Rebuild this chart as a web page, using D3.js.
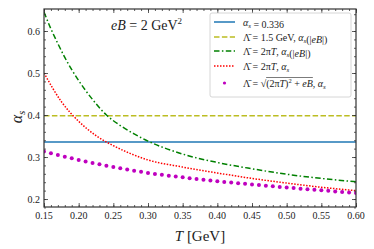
<!DOCTYPE html>
<html>
<head>
<meta charset="utf-8">
<script src="https://cdn.jsdelivr.net/npm/d3@7"></script>
<style>
  body { margin: 0; background: #fff; }
  svg text { font-family: "Liberation Serif", "DejaVu Serif", serif; fill: #222; }
</style>
</head>
<body>
<svg id="chart" width="374" height="249"></svg>
<script>
// constant couplings
var alphaFixed = 0.336;
var alphaLambda15 = 0.398;

// Lambda = 2 pi T, alpha_s(|eB|)
var greenT = [0.15, 0.16, 0.17, 0.18, 0.19, 0.20, 0.22, 0.24, 0.26, 0.28, 0.30, 0.35, 0.40, 0.45, 0.50, 0.55, 0.60];
var greenA = [0.645, 0.605, 0.570, 0.537, 0.508, 0.482, 0.437, 0.400, 0.375, 0.355, 0.338, 0.307, 0.287, 0.272, 0.259, 0.249, 0.241];

// Lambda = 2 pi T, alpha_s
var redT = [0.15, 0.175, 0.20, 0.225, 0.25, 0.275, 0.30, 0.35, 0.40, 0.45, 0.50, 0.55, 0.60];
var redA = [0.500, 0.432, 0.385, 0.351, 0.327, 0.308, 0.293, 0.276, 0.262, 0.249, 0.238, 0.228, 0.220];

// Lambda = sqrt((2 pi T)^2 + eB), alpha_s
var magT = [0.15, 0.16, 0.17, 0.18, 0.19, 0.20, 0.21, 0.22, 0.23, 0.24, 0.25, 0.26, 0.27, 0.28, 0.29,
            0.30, 0.31, 0.32, 0.33, 0.34, 0.35, 0.36, 0.37, 0.38, 0.39, 0.40, 0.41, 0.42, 0.43, 0.44,
            0.45, 0.46, 0.47, 0.48, 0.49, 0.50, 0.51, 0.52, 0.53, 0.54, 0.55, 0.56, 0.57, 0.58, 0.59, 0.60];
var magA = [0.3130, 0.3088, 0.3047, 0.3007, 0.2968, 0.2930, 0.2894, 0.2859, 0.2825, 0.2792, 0.2761, 0.2731, 0.2702, 0.2674, 0.2647,
            0.2620, 0.2598, 0.2577, 0.2556, 0.2536, 0.2516, 0.2497, 0.2478, 0.2460, 0.2442, 0.2425, 0.2408, 0.2392, 0.2376, 0.2361,
            0.2346, 0.2332, 0.2318, 0.2304, 0.2289, 0.2275, 0.2261, 0.2247, 0.2234, 0.2221, 0.2208, 0.2195, 0.2182, 0.2170, 0.2158, 0.2146];

var xTicks = [0.15, 0.20, 0.25, 0.30, 0.35, 0.40, 0.45, 0.50, 0.55, 0.60];
var yTicks = [0.2, 0.3, 0.4, 0.5, 0.6];

var svg = d3.select("#chart");
var mLeft = 44, mRight = 356, mTop = 9, mBottom = 207;

var x = d3.scaleLinear().domain([0.15, 0.60]).range([mLeft, mRight]);
var y = d3.scaleLinear().domain([0.181, 0.6524]).range([mBottom, mTop]);

svg.append("defs").append("clipPath").attr("id", "plotclip")
  .append("rect").attr("x", mLeft).attr("y", mTop).attr("width", mRight - mLeft).attr("height", mBottom - mTop);

var plot = svg.append("g").attr("clip-path", "url(#plotclip)");

var line = d3.line()
  .x(function(d) { return x(d[0]); })
  .y(function(d) { return y(d[1]); })
  .curve(d3.curveMonotoneX);

function zip(a, b) { return a.map(function(v, i) { return [v, b[i]]; }); }

plot.append("path")
  .datum([[0.15, alphaFixed], [0.60, alphaFixed]])
  .attr("d", line).attr("fill", "none")
  .attr("stroke", "#1f77b4").attr("stroke-width", 1.5);

plot.append("path")
  .datum([[0.15, alphaLambda15], [0.60, alphaLambda15]])
  .attr("d", line).attr("fill", "none")
  .attr("stroke", "#bcbd22").attr("stroke-width", 1.5)
  .attr("stroke-dasharray", "5.5,2.4");

plot.append("path")
  .datum(zip(greenT, greenA))
  .attr("d", line).attr("fill", "none")
  .attr("stroke", "green").attr("stroke-width", 1.5)
  .attr("stroke-dasharray", "5.5,2.4,1.5,2.4");

plot.append("path")
  .datum(zip(redT, redA))
  .attr("d", line).attr("fill", "none")
  .attr("stroke", "red").attr("stroke-width", 1.5)
  .attr("stroke-dasharray", "1.5,1.5");

plot.append("g")
  .selectAll("circle")
  .data(zip(magT, magA))
  .enter()
  .append("circle")
  .attr("cx", function(d) { return x(d[0]); })
  .attr("cy", function(d) { return y(d[1]); })
  .attr("r", 2)
  .attr("fill", "#bf00bf");

// frame + ticks (inward, all sides)
var axisColor = "#333";
function inward(axis, size) { return axis.tickSizeInner(size).tickSizeOuter(0); }

var xMinor = d3.range(0, 46).map(function(i) { return 0.15 + i * 0.01; });
var yMinor = d3.range(0, 24).map(function(i) { return 0.18 + i * 0.02; });

svg.append("g").attr("transform", "translate(0," + mBottom + ")")
  .call(inward(d3.axisTop(x).tickValues(xMinor).tickFormat(""), 2));
svg.append("g").attr("transform", "translate(0," + mBottom + ")")
  .call(inward(d3.axisTop(x).tickValues(xTicks).tickFormat(""), 4));
svg.append("g").attr("transform", "translate(0," + mTop + ")")
  .call(inward(d3.axisBottom(x).tickValues(xMinor).tickFormat(""), 2));
svg.append("g").attr("transform", "translate(0," + mTop + ")")
  .call(inward(d3.axisBottom(x).tickValues(xTicks).tickFormat(""), 4));
svg.append("g").attr("transform", "translate(" + mLeft + ",0)")
  .call(inward(d3.axisRight(y).tickValues(yMinor).tickFormat(""), 2));
svg.append("g").attr("transform", "translate(" + mLeft + ",0)")
  .call(inward(d3.axisRight(y).tickValues(yTicks).tickFormat(""), 4));
svg.append("g").attr("transform", "translate(" + mRight + ",0)")
  .call(inward(d3.axisLeft(y).tickValues(yMinor).tickFormat(""), 2));
svg.append("g").attr("transform", "translate(" + mRight + ",0)")
  .call(inward(d3.axisLeft(y).tickValues(yTicks).tickFormat(""), 4));

svg.selectAll(".domain").remove();
svg.selectAll(".tick line").attr("stroke", axisColor).attr("stroke-width", 0.8);

svg.append("rect")
  .attr("x", mLeft).attr("y", mTop).attr("width", mRight - mLeft).attr("height", mBottom - mTop)
  .attr("fill", "none").attr("stroke", axisColor).attr("stroke-width", 1.2);

// tick labels
svg.append("g").selectAll("text").data(xTicks).enter().append("text")
  .attr("x", function(d) { return x(d); })
  .attr("y", mBottom + 12)
  .attr("text-anchor", "middle")
  .attr("font-size", 10)
  .attr("fill", "#444")
  .text(function(d) { return d3.format(".2f")(d); });

svg.append("g").selectAll("text").data(yTicks).enter().append("text")
  .attr("x", mLeft - 4)
  .attr("y", function(d) { return y(d) + 3.5; })
  .attr("text-anchor", "end")
  .attr("font-size", 10)
  .attr("fill", "#444")
  .text(function(d) { return d3.format(".1f")(d); });

// axis titles
var xl = svg.append("text")
  .attr("x", 200).attr("y", 241)
  .attr("text-anchor", "middle")
  .attr("font-size", 15);
xl.append("tspan").attr("font-style", "italic").text("T");
xl.append("tspan").text(" [GeV]");

var yl = svg.append("text")
  .attr("transform", "translate(22," + (y(0.4) + 2) + ") rotate(-90)")
  .attr("text-anchor", "middle")
  .attr("font-size", 16);
yl.append("tspan").attr("font-style", "italic").text("α");
yl.append("tspan").attr("font-style", "italic").attr("font-size", 11).attr("dy", 3).text("s");

// annotation
var ann = svg.append("text").attr("x", 111).attr("y", 30).attr("font-size", 14);
ann.append("tspan").attr("font-style", "italic").text("eB");
ann.append("tspan").text(" = 2 GeV");
ann.append("tspan").attr("font-size", 9).attr("dy", -6).text("2");

// legend
var lg = svg.append("g");
lg.append("rect")
  .attr("x", 210).attr("y", 13).attr("width", 141).attr("height", 84)
  .attr("rx", 2).attr("fill", "#fff").attr("fill-opacity", 0.8)
  .attr("stroke", "#ccc").attr("stroke-width", 0.8);

var rowY = [22, 37, 51, 66, 83];
var lx0 = 214, lx1 = 235, tx = 243;

lg.append("line").attr("x1", lx0).attr("x2", lx1).attr("y1", rowY[0]).attr("y2", rowY[0])
  .attr("stroke", "#1f77b4").attr("stroke-width", 1.5);
lg.append("line").attr("x1", lx0).attr("x2", lx1).attr("y1", rowY[1]).attr("y2", rowY[1])
  .attr("stroke", "#bcbd22").attr("stroke-width", 1.5).attr("stroke-dasharray", "5.5,2.4");
lg.append("line").attr("x1", lx0).attr("x2", lx1).attr("y1", rowY[2]).attr("y2", rowY[2])
  .attr("stroke", "green").attr("stroke-width", 1.5).attr("stroke-dasharray", "5.5,2.4,1.5,2.4");
lg.append("line").attr("x1", lx0).attr("x2", lx1).attr("y1", rowY[3]).attr("y2", rowY[3])
  .attr("stroke", "red").attr("stroke-width", 1.5).attr("stroke-dasharray", "1.5,1.5");
lg.append("circle").attr("cx", (lx0 + lx1) / 2).attr("cy", rowY[4]).attr("r", 1.6).attr("fill", "#bf00bf");

function legText(i) {
  return lg.append("text").attr("x", tx).attr("y", rowY[i] + 3.5).attr("font-size", 10);
}
function sub(t, s) {
  t.append("tspan").attr("font-style", "italic").text("α");
  t.append("tspan").attr("font-style", "italic").attr("font-size", 7).attr("dy", 2).text(s);
  t.append("tspan").attr("dy", -2).text("");
}

var t0 = legText(0);
sub(t0, "s");
t0.append("tspan").text(" = 0.336");

var t1 = legText(1);
t1.append("tspan").text("Λ̄ = 1.5 GeV, ");
sub(t1, "s");
t1.append("tspan").text("(|");
t1.append("tspan").attr("font-style", "italic").text("eB");
t1.append("tspan").text("|)");

var t2 = legText(2);
t2.append("tspan").text("Λ̄ = 2π");
t2.append("tspan").attr("font-style", "italic").text("T");
t2.append("tspan").text(", ");
sub(t2, "s");
t2.append("tspan").text("(|");
t2.append("tspan").attr("font-style", "italic").text("eB");
t2.append("tspan").text("|)");

var t3 = legText(3);
t3.append("tspan").text("Λ̄ = 2π");
t3.append("tspan").attr("font-style", "italic").text("T");
t3.append("tspan").text(", ");
sub(t3, "s");

var t4 = legText(4);
t4.append("tspan").text("Λ̄ = √");
var rad = t4.append("tspan");
rad.append("tspan").text("(2π");
rad.append("tspan").attr("font-style", "italic").text("T");
rad.append("tspan").text(")");
rad.append("tspan").attr("font-size", 6.5).attr("dy", -4).text("2");
rad.append("tspan").attr("dy", 4).text(" + ");
rad.append("tspan").attr("font-style", "italic").text("eB");
t4.append("tspan").text(", ");
sub(t4, "s");

// overline for the square root
var nodes = t4.selectAll("tspan").nodes();
var radStart = nodes[1].getStartPositionOfChar(0).x;
var eb = nodes[nodes.length - 5];
var radEnd = eb.getEndPositionOfChar(eb.getNumberOfChars() - 1).x;
lg.append("line")
  .attr("x1", radStart).attr("x2", radEnd)
  .attr("y1", rowY[4] - 5.5).attr("y2", rowY[4] - 5.5)
  .attr("stroke", "#222").attr("stroke-width", 0.6);
</script>
</body>
</html>
